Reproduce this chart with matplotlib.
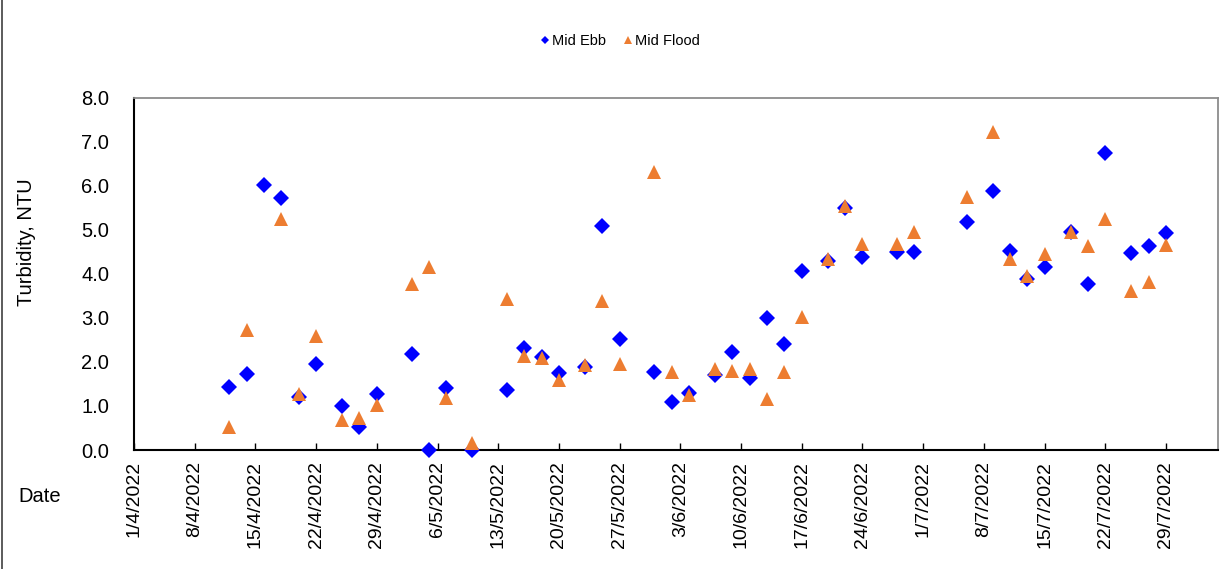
import datetime as dt

import matplotlib
matplotlib.use("Agg")
import matplotlib.pyplot as plt
from matplotlib.lines import Line2D
import numpy as np

plt.rcParams["font.family"] = ["Liberation Sans", "DejaVu Sans"]

# Sampling dates (day/month, 2022)
DATES = [
    "12/4", "14/4", "16/4", "18/4", "20/4", "22/4", "25/4", "27/4", "29/4",
    "3/5", "5/5", "7/5", "10/5", "14/5", "16/5", "18/5", "20/5", "23/5",
    "25/5", "27/5", "31/5", "2/6", "4/6", "7/6", "9/6", "11/6", "13/6",
    "15/6", "17/6", "20/6", "22/6", "24/6", "28/6", "30/6", "6/7", "9/7",
    "11/7", "13/7", "15/7", "18/7", "20/7", "22/7", "25/7", "27/7", "29/7",
]

MID_EBB = [
    1.42, 1.73, 6.02, 5.72, 1.21, 1.95, 0.99, 0.53, 1.28,
    2.18, 0.00, 1.41, 0.00, 1.36, 2.31, 2.12, 1.74, 1.89,
    5.09, 2.52, 1.78, 1.09, 1.29, 1.70, 2.22, 1.63, 3.00,
    2.41, 4.06, 4.29, 5.50, 4.39, 4.50, 4.49, 5.18, 5.87,
    4.52, 3.88, 4.16, 4.94, 3.78, 6.74, 4.47, 4.64, 4.93,
]

MID_FLOOD = [
    0.53, 2.72, np.nan, 5.24, 1.27, 2.59, 0.68, 0.72, 1.02,
    3.77, 4.16, 1.17, 0.15, 3.44, 2.13, 2.10, 1.59, 1.93,
    3.38, 1.95, 6.32, 1.76, 1.26, 1.85, 1.80, 1.85, 1.16,
    1.76, 3.01, 4.33, 5.54, 4.67, 4.67, 4.95, 5.75, 7.21,
    4.34, 3.94, 4.44, 4.96, 4.63, 5.24, 3.62, 3.81, 4.65,
]

X_START = dt.date(2022, 4, 1)
X_END = dt.date(2022, 8, 4)
Y_TICKS = [0, 1, 2, 3, 4, 5, 6, 7, 8]

EBB_COLOR = "#0000FF"
FLOOD_COLOR = "#ED7D31"


def to_date(s):
    d, m = s.split("/")
    return dt.date(2022, int(m), int(d))


def main():
    dates = [to_date(s) for s in DATES]

    W, H = 1224, 569
    fig = plt.figure(figsize=(W / 100, H / 100), dpi=100)
    ax = fig.add_axes([134 / W, 1 - 450 / H, 1084 / W, 352.3 / H])

    # Ebb first, flood drawn on top (as in the source chart)
    ax.plot(dates, MID_EBB, linestyle="none", marker="D", markersize=7.8,
            color=EBB_COLOR, markeredgewidth=0, zorder=3, clip_on=False)
    ax.plot(dates, MID_FLOOD, linestyle="none", marker="^", markersize=10,
            color=FLOOD_COLOR, markeredgewidth=0, zorder=4, clip_on=False)

    ax.set_xlim(X_START, X_END)
    ax.set_ylim(0, 8)

    xticks = [X_START + dt.timedelta(days=7 * i) for i in range(18)]
    ax.set_xticks(xticks)
    ax.set_xticklabels([f"{d.day}/{d.month}/{d.year}" for d in xticks],
                       rotation=90, fontsize=14)
    ax.tick_params(axis="x", direction="in", length=5, width=1, pad=8)

    ax.set_yticks(Y_TICKS)
    ax.set_yticklabels([f"{v:.1f}" for v in Y_TICKS], fontsize=14.5)
    ax.tick_params(axis="y", length=0, pad=18)

    for side in ("left", "bottom"):
        ax.spines[side].set_color("black")
        ax.spines[side].set_linewidth(1.5)
    for side in ("top", "right"):
        ax.spines[side].set_color("#8c8c8c")
        ax.spines[side].set_linewidth(1.3)

    fig.text(27 / W, 1 - 242 / H, "Turbidity, NTU", rotation=90,
             ha="center", va="center", fontsize=14.5)
    fig.text(18 / W, 1 - 496 / H, "Date", ha="left", va="center", fontsize=14.5)

    handles = [
        Line2D([0], [0], linestyle="none", marker="D", markersize=4,
               color=EBB_COLOR, markeredgewidth=0),
        Line2D([0], [0], linestyle="none", marker="^", markersize=6,
               color=FLOOD_COLOR, markeredgewidth=0),
    ]
    fig.legend(handles, ["Mid Ebb", "Mid Flood"], loc="center",
               bbox_to_anchor=(620 / W, 1 - 41 / H), ncol=2, frameon=False,
               fontsize=10.5, handlelength=0.6, handletextpad=0.2,
               columnspacing=1.2)

    # chart-area border (only the left edge shows in the reference)
    fig.add_artist(Line2D([1.5 / W, 1.5 / W], [0, 1], color="#404040",
                          linewidth=1.2, transform=fig.transFigure))

    fig.savefig("out.png", dpi=100)
    plt.close(fig)


if __name__ == "__main__":
    main()
